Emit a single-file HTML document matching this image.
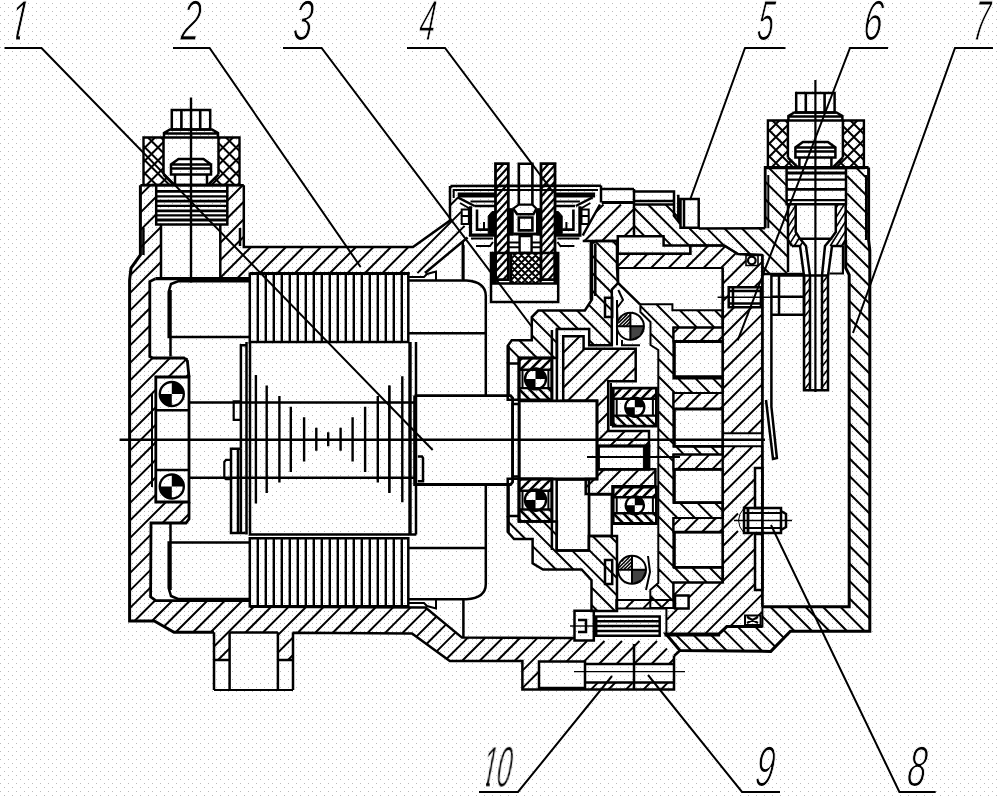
<!DOCTYPE html>
<html><head><meta charset="utf-8"><title>fig</title>
<style>
html,body{margin:0;padding:0;background:#fff;}
body{width:1000px;height:796px;overflow:hidden;position:relative;font-family:"Liberation Sans",sans-serif;}
svg{position:absolute;left:0;top:0;display:block;}
.n{font-family:"Liberation Sans",sans-serif;font-style:italic;font-size:57px;fill:#000;stroke:#fff;stroke-width:1.2px;paint-order:fill stroke;}
</style></head><body>
<svg width="1000" height="796" viewBox="0 0 1000 796">
<defs>
<pattern id="dots" width="8" height="8" patternUnits="userSpaceOnUse">
<rect x="4" y="3" width="1" height="1" fill="#bababa"/><rect x="0" y="7" width="1" height="1" fill="#bababa"/>
</pattern>
<pattern id="dots2" width="8" height="8" patternUnits="userSpaceOnUse"><rect x="0" y="3" width="1" height="1" fill="#c0c0c0"/><rect x="4" y="7" width="1" height="1" fill="#c0c0c0"/></pattern>
<clipPath id="c1"><path d="M0 0H60V35H19.9V42H16.2V35H0Z"/></clipPath>
<clipPath id="c10"><path d="M470 740H540V790H493.5V782H489.7V790H486.1V782H470Z"/></clipPath>
</defs>
<rect width="1000" height="796" fill="#fff"/>
<rect width="1000" height="796" fill="url(#dots)"/>
<path d="M129.6 280L131 268L140.4 255L140.4 185.3L156.2 185.3L156.2 224.5L161 224.5L161 278.7L149.8 281L149.8 358L187.4 358L189 377L155.8 377L155.8 502L189 502L189 523L150.6 523L150.6 600.7L249.8 600.7L249.8 606.7L425.5 607.5L462 637.6L574 638L574 641L660 641L674 656L674 689.5L522.4 689.5L522.4 661L449.8 661L412 633.4L293 632.3L293 660L277.9 660L277.9 632.3L229.6 632.3L229.6 660L214 660L214 632.3L174 632.3L154.3 621L129.6 621ZM539 661.6L585 661.6L585 664L674 664L674 682.4L585 682.4L585 688L539 688ZM220.3 185.3L243.8 185.3L243.8 247L413 247L450 220.6L450 186L458 186L458 200L467.6 237.5L425 273L409.7 273.2L249.8 273.2L249.8 278.7L220.3 278.7L220.3 224.5L227.3 224.5L227.3 185.3ZM143.5 137.5L163.5 137.5L163.5 174.5L174 185L143.5 185ZM143.5 137.5L163.5 137.5L163.5 174.5L174 185L143.5 185ZM239.5 137.5L218.5 137.5L218.5 174.5L208 185L239.5 185ZM239.5 137.5L218.5 137.5L218.5 174.5L208 185L239.5 185ZM767.9 120.5L787.9 120.5L787.9 157.5L798.4 168L767.9 168ZM767.9 120.5L787.9 120.5L787.9 157.5L798.4 168L767.9 168ZM863.9 120.5L842.9 120.5L842.9 157.5L832.4 168L863.9 168ZM863.9 120.5L842.9 120.5L842.9 157.5L832.4 168L863.9 168ZM847 167.5L868.6 167.5L868.6 240L870.3 250L870.3 631.2L790.4 631.2L770.8 651.4L680 650.5L666 634L718.8 634L726.8 626.6L762.4 626.6L762.4 606.8L849.2 606.8L849.2 274.9L845.7 267.8L845.7 204.3L847 204.3ZM765.2 167.5L786.9 167.5L786.9 204.3L788 204.3L788 274L771.4 274L762.4 274L762.4 255L738 254L724 245.4L663.6 245.4L663.6 236.2L634 236.2L634 204.5L679 204.5L679 228.5L765.2 228.2ZM788 204.3L795.7 204.3L795.7 232L800 238.8L806 246L792 246L788 240ZM845.7 204.3L835.8 204.3L835.8 232L831 238.8L825 246L842 246L845.7 240ZM804 275.6L810 275.6L810 390.2L804 390.2ZM822 275.6L828 275.6L828 390.2L822 390.2ZM600 204.5L634 204.5L634 236.2L617.8 236.2L617.8 241L582.7 241L582.7 235.5ZM617.8 253.8L690.3 253.8L690.3 245.4L724 245.4L738 254L762.4 255L762.4 433.3L722.7 433.3L722.7 446.3L762.4 446.3L762.4 626.6L726.8 626.6L718.8 633.9L666.4 633.9L666.4 608.4L616.3 608.4L616.3 600L673.4 600L673.4 582.4L722.7 582.4L722.7 532.2L673.4 532.2L673.4 518L722.7 518L722.7 469.4L673.4 469.4L673.4 454.4L722.7 454.4L722.7 409L673.4 409L673.4 393L722.7 393L722.7 341.5L673.4 341.5L673.4 327.4L722.7 327.4L722.7 268L617.8 268ZM675 595.6L688.6 595.6L688.6 608.4L675 608.4ZM728.7 287.2L760.9 287.2L760.9 307.3L728.7 307.3ZM738 508L762 508L762 533L738 533ZM755 468L762 468L762 507L755 507ZM755 534L762 534L762 590L755 590ZM745 615.4L760.6 615.4L760.6 625L745 625ZM746 255.5L758 255.5L758 265.5L746 265.5ZM640.4 304.3L672.4 304.3L672.4 310.3L722.7 310.3L722.7 327.4L673.4 327.4L673.4 378.6L722.7 378.6L722.7 393L673.4 393L673.4 446.3L722.7 446.3L722.7 454.4L673.4 454.4L673.4 502.6L722.7 502.6L722.7 518L673.4 518L673.4 567.3L722.7 567.3L722.7 582.4L673.4 582.4L673.4 608L650.3 608L650.3 590L658.3 583L658.3 470L658.3 350L650.5 345L650.5 322L640.4 312ZM507.7 363.6L507.7 346L511.7 340.3L531.8 340.3L531.8 317L538.2 310.5L584.9 310.5L592 299.3L592 243.4L595.3 241L617 241L617 268L618 283L611.8 289.6L611.8 345.3L589.2 345.3L589.2 329L556.9 329L556.9 358L519 358L519 363.6ZM507.7 516L507.7 531.9L514 539L532.6 539L532.6 563.2L543 569.5L581.6 569.5L591.5 580.2L591.5 611L617 611L617 536L611.8 536L588.9 536L588.9 550.4L556.7 550.4L556.9 521.4L519 521.4L519 516ZM519 358L551.9 358L551.9 369.7L519 369.7ZM519 388.1L551.9 388.1L551.9 399.8L519 399.8ZM519 478.8L551.9 478.8L551.9 490.7L519 490.7ZM519 509.5L551.9 509.5L551.9 521.4L519 521.4ZM563.2 336.2L583.6 336.2L583.6 348.8L635.7 348.8L635.7 381.2L608.2 381.2L608.2 431L649 431L649 446L598.4 446L598.4 469.3L655.4 469.3L655.4 486.2L612.5 486.2L612.5 494L585.7 494L585.7 479L597 479L597 400.8L563.2 400.8ZM613.2 388.2L656.4 388.2L656.4 398.8L613.2 398.8ZM613.2 415.6L656.4 415.6L656.4 426.2L613.2 426.2ZM613.2 487L656.4 487L656.4 497.2L613.2 497.2ZM613.2 513.3L656.4 513.3L656.4 523.5L613.2 523.5ZM616.9 326.3L620.9 316.9L630.4 312.8L630.4 326.3ZM618 569.8L622.2 560L632 555.8L632 569.8ZM495.5 163.7L508.3 163.7L508.3 279.6L495.5 279.6ZM541 163.7L555 163.7L555 279.6L541 279.6ZM510.7 253.9L541.3 253.9L541.3 283.6L510.7 283.6ZM510.7 253.9L541.3 253.9L541.3 283.6L510.7 283.6Z" fill="url(#dots2)" fill-rule="evenodd"/>
<g fill="none" stroke="#000" stroke-linecap="butt" stroke-linejoin="miter">
<path d="M4.5 48L41.5 48L432.7 450M173 48L209.6 48L360.6 267M283 48L321.6 48L532 327M407 48L445 48L553 192M785.5 48L745 48L690 200M888 48L850 48L737.7 340.4M993 48L955 48L853 333M935.7 792L899.4 792L771 525M780 792L742 792L648 675M479 792L518 792L612 676" stroke-width="2"/>
<path d="M119.6 439.8L765 439.8" stroke-width="2.6"/>
<path d="M191 97.5L191 282.5" stroke-width="2.4"/>
<path d="M140.4 185.3L140.4 255L131 268L129.6 280L129.6 621L154.3 621L174 632.3L214 632.3" stroke-width="3"/>
<path d="M293 632.8L412 633.4L449.8 661L522.4 661L522.4 689.5L674 689.5L674 656M243.8 185.3L243.8 247L413 247L450 220.6L450 186M214 632.3L214 690M229.6 632.3L229.6 690M277.9 632.3L277.9 690M293 632.3L293 690M214 660L229.6 660M277.9 660L293 660" stroke-width="2.5"/>
<path d="M214 690L293 690" stroke-width="2"/>
<path d="M229.6 632.5L277.9 632.5" stroke-width="2.5"/>
<path d="M155.4 278.7L249.8 278.7" stroke-width="3.2"/>
<path d="M155.4 278.7L149.8 281.5L149.8 356.6L153 358L184 358L187.4 361L189 377M189 502L189 519L186 523L151 523L150.6 596.8L155.8 600.7L249.8 600.7" stroke-width="2.8"/>
<path d="M249.8 606.7L425.5 607.5L462 637.6L574 638M249.8 273.2L409.7 273.2" stroke-width="2.5"/>
<path d="M150.2 185.3L140.4 195.1M156.2 196.8L140.4 212.6M156.2 214.3L140.4 230.1M161 227L140.4 247.6M161 244.5L130.1 275.4M161 262L129.6 293.4M149.8 290.7L129.6 310.9M149.8 308.2L129.6 328.4M149.8 325.7L129.6 345.9M149.8 343.2L129.6 363.4M152.5 358L129.6 380.9M170 358L129.6 398.4M187.4 358.1L168.5 377M155.8 389.7L129.6 415.9M188.8 374.2L186 377M155.8 407.2L129.6 433.4M155.8 424.7L129.6 450.9M155.8 442.2L129.6 468.4M155.8 459.7L129.6 485.9M155.8 477.2L129.6 503.4M155.8 494.7L129.6 520.9M166 502L129.6 538.4M183.5 502L162.5 523M150.6 534.9L129.6 555.9M189 514L180 523M150.6 552.4L129.6 573.4M150.6 569.9L129.6 590.9M150.6 587.4L129.6 608.4M154.8 600.7L134.5 621M172.3 600.7L152 621M189.8 600.7L164 626.5M207.3 600.7L175.7 632.3M224.8 600.7L193.2 632.3M242.3 600.7L210.7 632.3M253.8 606.7L214 646.5M271.2 606.8L245.7 632.3M229.6 648.4L218 660M288.6 606.9L263.2 632.3M306 607L277.9 635.1M323.5 607L298.2 632.3M293 637.5L277.9 652.6M340.9 607.1L315.5 632.5M293 655L288 660M358.3 607.2L332.8 632.7M375.7 607.3L350.2 632.8M393.1 607.4L367.5 633M410.6 607.4L384.9 633.1M426.9 608.6L402.2 633.3M436.5 616.5L416.4 636.6M446.1 624.4L426.5 644M455.6 632.4L436.6 651.4M467.9 637.6L446.7 658.8M485.3 637.7L462 661M502.8 637.7L479.5 661M520.2 637.8L497 661M537.6 637.9L514.5 661M555.1 637.9L522.4 670.6M572.5 638L548.9 661.6M539 671.5L522.4 688.1M587 641L566.4 661.6M540 688L538.5 689.5M604.5 641L583.9 661.6M557.5 688L556 689.5M622 641L599 664M575 688L573.5 689.5M639.5 641L616.5 664M598.1 682.4L591 689.5M657 641L634 664M615.6 682.4L608.5 689.5M667 648.5L651.5 664M633.1 682.4L626 689.5M674 659L669 664M650.6 682.4L643.5 689.5M668.1 682.4L661 689.5M242.7 185.3L227.3 200.7M243.8 201.7L227.3 218.2M221 224.5L220.3 225.2M243.8 219.2L220.3 242.7M243.8 236.7L220.3 260.2M251 247L220.3 277.7M268.5 247L236.8 278.7M286 247L259.8 273.2M303.5 247L277.3 273.2M321 247L294.8 273.2M338.5 247L312.3 273.2M356 247L329.8 273.2M373.5 247L347.3 273.2M452 186L450 188M391 247L364.8 273.2M458 197.5L450 205.5M408.5 247L382.3 273.2M461.1 211.9L399.8 273.2M464.6 225.9L417.4 273.1" stroke-width="2"/>
<path d="M249.8 273.7L408.3 273.7L408.3 342L249.8 342Z" stroke-width="2.5"/>
<path d="M257.8 273.7L257.8 342M265.8 273.7L265.8 342M273.8 273.7L273.8 342M281.8 273.7L281.8 342M289.8 273.7L289.8 342M297.8 273.7L297.8 342M305.8 273.7L305.8 342M313.8 273.7L313.8 342M321.8 273.7L321.8 342M329.8 273.7L329.8 342M337.8 273.7L337.8 342M345.8 273.7L345.8 342M353.8 273.7L353.8 342M361.8 273.7L361.8 342M369.8 273.7L369.8 342M377.8 273.7L377.8 342M385.8 273.7L385.8 342M393.8 273.7L393.8 342M401.8 273.7L401.8 342" stroke-width="2.4"/>
<path d="M249.8 538.3L408.3 538.3L408.3 606.3L249.8 606.3Z" stroke-width="2.5"/>
<path d="M257.8 538.3L257.8 606.3M265.8 538.3L265.8 606.3M273.8 538.3L273.8 606.3M281.8 538.3L281.8 606.3M289.8 538.3L289.8 606.3M297.8 538.3L297.8 606.3M305.8 538.3L305.8 606.3M313.8 538.3L313.8 606.3M321.8 538.3L321.8 606.3M329.8 538.3L329.8 606.3M337.8 538.3L337.8 606.3M345.8 538.3L345.8 606.3M353.8 538.3L353.8 606.3M361.8 538.3L361.8 606.3M369.8 538.3L369.8 606.3M377.8 538.3L377.8 606.3M385.8 538.3L385.8 606.3M393.8 538.3L393.8 606.3M401.8 538.3L401.8 606.3" stroke-width="2.4"/>
<path d="M249.8 281.3L178 281.3L171 284L168.7 292L168.7 337L249.8 337M249.8 542.5L168.7 542.5L168.7 588L171 596L178 599L249.8 599M170.5 290L170.5 356.6M170.5 523L170.5 590" stroke-width="2.5"/>
<path d="M408.3 280.6L466.5 280.6Q485.8 282 485.8 296L485.8 395.6M485.8 484.5L485.8 584Q485.8 598 466.5 599.2L408.3 599.2" stroke-width="2.5"/>
<path d="M408.3 333.2L485.8 333.2M408.3 547.9L485.8 547.9M463.4 245L463.4 280.6M463.4 599.2L463.4 637" stroke-width="2.5"/>
<path d="M408.3 277L424 277L427 274L436 271.5L436 280M408.3 603L424 603L427 606L436 608.5L436 600" stroke-width="2"/>
<path d="M246.5 345.3L240.9 345.3L240.9 448.8M246.5 342L246.5 534.6M250 342L250 534.6L416 534.6" stroke-width="2.5"/>
<path d="M410 342L410 534.6" stroke-width="3.4"/>
<path d="M416 342L416 534.6" stroke-width="2.5"/>
<path d="M255.9 375L255.9 503.6M266.7 385.6L266.7 493M279.4 396.1L279.4 482.5M290.8 406.7L290.8 471.9M304.1 417.2L304.1 461.4M316.3 427.8L316.3 450.8M328.2 432.3L328.2 446.3M340.6 427.8L340.6 450.8M352.6 417.2L352.6 461.4M365.1 406.7L365.1 471.9M377.8 396.1L377.8 482.5M389.4 385.6L389.4 493M402.3 376.3L402.3 502.3" stroke-width="2.4"/>
<path d="M189 402.4L414.6 402.4M189 477.8L414.6 477.8" stroke-width="2.5"/>
<path d="M414.6 395.6L510.6 395.6L512.6 398L512.6 482L510.6 484.5L414.6 484.5L414.6 395.6" stroke-width="2.8"/>
<path d="M233.7 401.3L240.9 401.3L240.9 419.8L233.7 419.8Z" stroke-width="2.2"/>
<path d="M240.9 448.8L231 448.8L231 533L245.6 533M238 448.8L238 533M240.9 448.8L240.9 533" stroke-width="2.5"/>
<path d="M231 459.8L226 459.8L224.3 462L224.3 477L226 479.2L231 479.2" stroke-width="2.2"/>
<path d="M155.8 377L189 377L189 502L155.8 502Z" stroke-width="2.8"/>
<path d="M155.8 410.2L189 410.2M155.8 470L189 470" stroke-width="2.5"/>
<circle cx="171.8" cy="394.0" r="12.0" stroke-width="2.4"/>
<path d="M171.8 394.0L171.8 382.0A12.0 12.0 0 0 1 183.8 394.0Z M171.8 394.0L171.8 406.0A12.0 12.0 0 0 1 159.8 394.0Z" fill="#000" stroke="none"/>
<circle cx="171.8" cy="486.5" r="12.0" stroke-width="2.4"/>
<path d="M171.8 486.5L171.8 474.5A12.0 12.0 0 0 1 183.8 486.5Z M171.8 486.5L171.8 498.5A12.0 12.0 0 0 1 159.8 486.5Z" fill="#000" stroke="none"/>
<path d="M152 393L152 487" stroke-width="2"/>
<path d="M171.8 109.9L210.2 109.9L210.2 129.5L171.8 129.5Z" stroke-width="2.5"/>
<path d="M181.4 109.9L181.4 129.5M200.2 109.9L200.2 129.5" stroke-width="2.6"/>
<path d="M164 137.5L164 133L170 129.5L212 129.5L218 133L218 137.5M164 133.5L218 133.5" stroke-width="2.5"/>
<path d="M143.5 137.5L239.5 137.5L239.5 185L143.5 185Z" stroke-width="2.4"/>
<path d="M163.5 137.5L163.5 174.5M218.5 137.5L218.5 174.5M163.5 174.5L174 185" stroke-width="2.5"/>
<path d="M155 137.5L143.5 149M163.5 142L143.5 162M163.5 155L143.5 175M163.5 168L146.5 185M166.8 177.8L159.5 185M173.2 184.2L172.5 185M143.5 172L156.5 185M143.5 159L169.5 185M143.5 146L163.5 166M148 137.5L163.5 153M161 137.5L163.5 140" stroke-width="2"/>
<path d="M218.5 174.5L208 185" stroke-width="2.5"/>
<path d="M220 137.5L218.5 139M233 137.5L218.5 152M239.5 144L218.5 165M239.5 157L211.5 185M239.5 170L224.5 185M239.5 183L237.5 185M214.8 178.2L221.5 185M218.5 169L234.5 185M218.5 156L239.5 177M218.5 143L239.5 164M226 137.5L239.5 151M239 137.5L239.5 138" stroke-width="2"/>
<path d="M175 185L175 174.5L171 174.5L171 164.5L178.5 159L203.5 159L211 164.5L211 174.5L207 174.5L207 185M171 164.5L211 164.5M171 168.5L211 168.5M175 174.5L207 174.5M156.2 185L227.3 185L227.3 224.5L156.2 224.5Z" stroke-width="2.5"/>
<path d="M156.2 191.3L227.3 191.3" stroke-width="2.8"/>
<path d="M156.2 196.3L227.3 196.3" stroke-width="2.2"/>
<path d="M156.2 201.1L227.3 201.1" stroke-width="2.8"/>
<path d="M156.2 205.9L227.3 205.9" stroke-width="2.2"/>
<path d="M156.2 210.9L227.3 210.9" stroke-width="2.8"/>
<path d="M156.2 215.4L227.3 215.4" stroke-width="2.2"/>
<path d="M156.2 220L227.3 220" stroke-width="2.8"/>
<path d="M796.2 92.9L834.6 92.9L834.6 112.5L796.2 112.5Z" stroke-width="2.5"/>
<path d="M805.8 92.9L805.8 112.5M824.6 92.9L824.6 112.5" stroke-width="2.6"/>
<path d="M788.4 120.5L788.4 116L794.4 112.5L836.4 112.5L842.4 116L842.4 120.5M788.4 116.5L842.4 116.5" stroke-width="2.5"/>
<path d="M767.9 120.5L863.9 120.5L863.9 168L767.9 168Z" stroke-width="2.4"/>
<path d="M787.9 120.5L787.9 157.5M842.9 120.5L842.9 157.5M787.9 157.5L798.4 168" stroke-width="2.5"/>
<path d="M779.4 120.5L767.9 132M787.9 125L767.9 145M787.9 138L767.9 158M787.9 151L770.9 168M791.1 160.8L783.9 168M797.6 167.2L796.9 168M767.9 155L780.9 168M767.9 142L793.9 168M767.9 129L787.9 149M772.4 120.5L787.9 136M785.4 120.5L787.9 123" stroke-width="2"/>
<path d="M842.9 157.5L832.4 168" stroke-width="2.5"/>
<path d="M844.4 120.5L842.9 122M857.4 120.5L842.9 135M863.9 127L842.9 148M863.9 140L835.9 168M863.9 153L848.9 168M863.9 166L861.9 168M839.1 161.2L845.9 168M842.9 152L858.9 168M842.9 139L863.9 160M842.9 126L863.9 147M850.4 120.5L863.9 134M863.4 120.5L863.9 121" stroke-width="2"/>
<path d="M799.4 168L799.4 157.5L795.4 157.5L795.4 147.5L802.9 142L827.9 142L835.4 147.5L835.4 157.5L831.4 157.5L831.4 168M795.4 147.5L835.4 147.5M795.4 151.5L835.4 151.5M799.4 157.5L831.4 157.5M786.6 168L846 168L846 204.2L786.6 204.2Z" stroke-width="2.5"/>
<path d="M786.6 173L846 173" stroke-width="2.8"/>
<path d="M786.6 179.7L846 179.7" stroke-width="2.2"/>
<path d="M786.6 189.4L846 189.4" stroke-width="2.8"/>
<path d="M786.6 200.2L846 200.2" stroke-width="2.2"/>
<path d="M140.4 185.3L243.8 185.3" stroke-width="2.4"/>
<path d="M161 224.5L161 278.7M220.3 224.5L220.3 278.7M143.4 228L143.4 255M240 228L240 246" stroke-width="2.5"/>
<path d="M868.6 167.5L765.2 167.5L765.2 228.2" stroke-width="2.8"/>
<path d="M768.3 175L768.3 228.2" stroke-width="2"/>
<path d="M868.6 167.5L868.6 240L869.8 250L869.8 631.2L790.4 631.2L770.8 651.4L680 650.5L666 634L718.8 634L726.8 626.6L762.4 626.6" stroke-width="3"/>
<path d="M866 175L866 240" stroke-width="2"/>
<path d="M845.7 240L845.7 267.8L849.2 274.9L849.2 606.8L762.4 606.8" stroke-width="3"/>
<path d="M765.2 228.2L698.7 228.5" stroke-width="2.5"/>
<path d="M675 634L691.6 650.6M692.5 634L709.3 650.8M710 634L727 651M723.3 629.8L744.6 651.1M737.6 626.6L762.3 651.3M755.1 626.6L775.3 646.8M762.4 616.4L783.9 637.9M770.3 606.8L794.7 631.2M787.8 606.8L812.2 631.2M805.3 606.8L829.7 631.2M822.8 606.8L847.2 631.2M840.3 606.8L864.7 631.2M849.2 598.2L870.3 619.3M849.2 580.7L870.3 601.8M849.2 563.2L870.3 584.3M849.2 545.7L870.3 566.8M849.2 528.2L870.3 549.3M849.2 510.7L870.3 531.8M849.2 493.2L870.3 514.3M849.2 475.7L870.3 496.8M849.2 458.2L870.3 479.3M849.2 440.7L870.3 461.8M849.2 423.2L870.3 444.3M849.2 405.7L870.3 426.8M849.2 388.2L870.3 409.3M849.2 370.7L870.3 391.8M849.2 353.2L870.3 374.3M849.2 335.7L870.3 356.8M849.2 318.2L870.3 339.3M849.2 300.7L870.3 321.8M849.2 283.2L870.3 304.3M845.7 262.2L870.3 286.8M845.7 244.7L870.3 269.3M845.7 227.2L870.3 251.8M845.7 209.7L868.6 232.6M847 193.5L868.6 215.1M847 176L868.6 197.6M856 167.5L868.6 180.1M634 225.5L644.7 236.2M634 208L662.2 236.2M663.6 237.6L671.4 245.4M648 204.5L688.9 245.4M665.5 204.5L679 218M689.5 228.5L706.4 245.4M706.9 228.4L723.9 245.4M724.3 228.3L750.5 254.5M762.4 266.4L770 274M741.8 228.3L787.5 274M759.2 228.2L788 257M765.2 216.7L788 239.5M765.2 199.2L788 222M765.2 181.7L786.9 203.4M768.5 167.5L786.9 185.9M786 167.5L786.9 168.4" stroke-width="2"/>
<path d="M788 204.3L788 240L792 246M845.7 204.3L845.7 240L842 246M795.7 204.3L795.7 232L800 238.8L831 238.8L835.8 232L835.8 204.3M800 238.8L806 246L810 275.6M831 238.8L825 246L822 275.6M792 246L800 246L804 275.6M842 246L832 246L828 275.6" stroke-width="2.5"/>
<path d="M790.3 204.3L788 208M795.7 205.3L788 217.6M795.7 214.9L788 227.2M795.7 224.5L788 236.8M796.4 233L790.1 243.1M799.4 237.8L794.2 246M802.7 242.1L800.2 246M838.3 204.3L835.8 208.3M844.3 204.3L835.8 217.9M845.7 211.7L835.8 227.5M845.7 221.3L830.2 246M845.7 230.9L836.2 246" stroke-width="1.6"/>
<path d="M815.4 80L815.4 392" stroke-width="2.2"/>
<path d="M788 240L788 272" stroke-width="2.5"/>
<path d="M842.9 246L842.9 273.5L829.5 273.5" stroke-width="2.2"/>
<path d="M804 275.6L828 275.6L828 390.2L804 390.2ZM810 275.6L810 390.2M822 275.6L822 390.2" stroke-width="2.5"/>
<path d="M810 278.2L804 286M810 288.6L804 296.4M810 299L804 306.8M810 309.4L804 317.2M810 319.8L804 327.6M810 330.2L804 338M810 340.6L804 348.4M810 351L804 358.8M810 361.4L804 369.2M810 371.8L804 379.6M810 382.2L804 390M828 275.6L822 283.4M828 286L822 293.8M828 296.4L822 304.2M828 306.8L822 314.6M828 317.2L822 325M828 327.6L822 335.4M828 338L822 345.8M828 348.4L822 356.2M828 358.8L822 366.6M828 369.2L822 377M828 379.6L822 387.4" stroke-width="1.6"/>
<path d="M762.4 255L762.4 606.8" stroke-width="2.6"/>
<path d="M771.4 274L771.4 406.8L776.9 458L773 459L766 400M771.4 275.6L804 275.6L804 314.8L771.4 314.8ZM771.4 296.7L804 296.7M779 275.6L779 314.8M762.4 274L804 274M634 189L634 235.5M634 191.6L674 191.6L674 215.8L678.3 221.4L678.3 194.7M634 201L674 201M634 204.5L674 204.5M680.5 199L698.7 199L698.7 227.8L680.5 227.8ZM684 199L684 227.8" stroke-width="2.5"/>
<path d="M601.7 202.4L634 202.4" stroke-width="3"/>
<path d="M601 185.5L601 202.4M601.7 189L634 189M582.7 241L617.8 241" stroke-width="2.5"/>
<path d="M603.5 204.5L595.6 212.4M621 204.5L584.5 241M634 209L602 241M634 226.5L624.3 236.2" stroke-width="2"/>
<path d="M600 204.5L582.7 235.5M617.8 253.8L617.8 236.2L663.6 236.2L663.6 245.4L690.3 245.4L690.3 253.8L617.8 253.8M690.3 245.4L724 245.4M724 245.4L738 254L762.4 255" stroke-width="2.5"/>
<path d="M630.2 253.8L617.8 266.2M647.7 253.8L633.5 268M665.2 253.8L651 268M691.1 245.4L690.3 246.2M682.7 253.8L668.5 268M708.6 245.4L686 268M725.3 246.2L703.5 268M736.1 252.9L721 268M751.9 254.6L751 255.5M746 260.5L722.7 283.8M679.1 327.4L673.4 333.1M762.4 261.6L736.8 287.2M728.7 295.3L722.7 301.3M696.6 327.4L682.5 341.5M762.4 279.1L754.3 287.2M734.2 307.3L722.7 318.8M714.1 327.4L700 341.5M762.4 296.6L760.9 298.1M751.7 307.3L717.5 341.5M762.4 314.1L722.7 353.8M683.5 393L673.4 403.1M762.4 331.6L722.7 371.3M701 393L685 409M762.4 349.1L722.7 388.8M718.5 393L702.5 409M762.4 366.6L720 409M674.6 454.4L673.4 455.6M762.4 384.1L722.7 423.8M692.1 454.4L677.1 469.4M762.4 401.6L730.7 433.3M709.6 454.4L694.6 469.4M762.4 419.1L748.2 433.3M735.2 446.3L712.1 469.4M752.7 446.3L722.7 476.3M681 518L673.4 525.6M762.4 454.1L722.7 493.8M698.5 518L684.3 532.2M762.4 471.6L762 472M755 479L722.7 511.3M716 518L701.8 532.2M634 600L625.6 608.4M762.4 489.1L762 489.5M755 496.5L743.5 508M738 513.5L719.3 532.2M651.5 600L643.1 608.4M762.4 506.6L762 507M762 507L761 508M738 531L722.7 546.3M686.6 582.4L673.4 595.6M669 600L660.6 608.4M762.4 524.1L762 524.5M753.5 533L722.7 563.8M704.1 582.4L688.6 597.9M678.1 608.4L666.4 620.1M762.4 541.6L762 542M755 549L722.7 581.3M721.6 582.4L670.1 633.9M762.4 559.1L762 559.5M755 566.5L687.6 633.9M762.4 576.6L762 577M755 584L705.1 633.9M762.4 594.1L729.9 626.6M762.4 611.6L758.6 615.4M749 625L747.4 626.6M617.8 253.8L690.3 253.8L690.3 245.4L724 245.4L738 254L762.4 255L762.4 433.3L722.7 433.3L722.7 446.3L762.4 446.3L762.4 626.6L726.8 626.6L718.8 633.9L666.4 633.9L666.4 608.4L616.3 608.4L616.3 600L673.4 600L673.4 582.4L722.7 582.4L722.7 532.2L673.4 532.2L673.4 518L722.7 518L722.7 469.4L673.4 469.4L673.4 454.4L722.7 454.4L722.7 409L673.4 409L673.4 393L722.7 393L722.7 341.5L673.4 341.5L673.4 327.4L722.7 327.4L722.7 268L617.8 268Z" stroke-width="2"/>
<path d="M675 595.6L688.6 595.6L688.6 608.4L675 608.4Z" stroke-width="2.5"/>
<path d="M722.7 341.5L674.4 341.5L674.4 376.6L722.7 376.6M722.7 409L674.4 409L674.4 446.3L722.7 446.3M722.7 469.4L674.4 469.4L674.4 502.6L722.7 502.6M722.7 532.2L674.4 532.2L674.4 567.3L722.7 567.3" stroke-width="2.8"/>
<path d="M722.7 268L722.7 582.4" stroke-width="2.4"/>
<path d="M650.3 595.8L662.5 608M656.5 584.5L673.4 601.4M658.3 568.8L673.4 583.9M658.3 551.3L673.4 566.4M674.3 567.3L689.4 582.4M658.3 533.8L673.4 548.9M691.8 567.3L706.9 582.4M658.3 516.3L673.4 531.4M709.3 567.3L722.7 580.7M658.3 498.8L677.5 518M658.3 481.3L673.4 496.4M679.6 502.6L695 518M658.3 463.8L673.4 478.9M697.1 502.6L712.5 518M658.3 446.3L673.4 461.4M714.6 502.6L722.7 510.7M658.3 428.8L673.4 443.9M675.8 446.3L683.9 454.4M658.3 411.3L673.4 426.4M693.3 446.3L701.4 454.4M658.3 393.8L673.4 408.9M710.8 446.3L718.9 454.4M658.3 376.3L675 393M658.3 358.8L673.4 373.9M678.1 378.6L692.5 393M650.5 333.5L673.4 356.4M695.6 378.6L710 393M640.4 305.9L673.4 338.9M713.1 378.6L722.7 388.2M656.3 304.3L679.4 327.4M679.8 310.3L696.9 327.4M697.3 310.3L714.4 327.4M714.8 310.3L722.7 318.2M640.4 304.3L672.4 304.3L672.4 310.3L722.7 310.3L722.7 327.4L673.4 327.4L673.4 378.6L722.7 378.6L722.7 393L673.4 393L673.4 446.3L722.7 446.3L722.7 454.4L673.4 454.4L673.4 502.6L722.7 502.6L722.7 518L673.4 518L673.4 567.3L722.7 567.3L722.7 582.4L673.4 582.4L673.4 608L650.3 608L650.3 590L658.3 583L658.3 470L658.3 350L650.5 345L650.5 322L640.4 312Z" stroke-width="2"/>
<path d="M618 268L618 283L640 304.3M728.7 287.2L760.9 287.2L760.9 307.3L728.7 307.3Z" stroke-width="2.5"/>
<path d="M717.6 297.2L790 297.2" stroke-width="1.4"/>
<path d="M733 287.2L733 307.3M728.7 291L760.9 291M728.7 303.5L760.9 303.5" stroke-width="2.5"/>
<circle cx="751.8" cy="260.5" r="3.8" stroke-width="2.2"/>
<path d="M746 255.5L758 255.5L758 265.5L746 265.5Z" stroke-width="1.6"/>
<path d="M745 615.4L760.6 615.4L760.6 625L745 625ZM747 623L758 617M747 617L758 623" stroke-width="2"/>
<path d="M744 508L781 508L781 533L744 533ZM781 511L786 514L786 527L781 530" stroke-width="2.5"/>
<path d="M734 520.5L792 520.5" stroke-width="1.6"/>
<path d="M744 508 Q733 520.5 744 533" />
<path d="M748 508L748 533" stroke-width="2.8"/>
<path d="M744 513L781 513M744 528L781 528" stroke-width="2"/>
<path d="M755 468L762.4 468L762.4 508L755 508ZM755 534L762.4 534L762.4 590L755 590Z" stroke-width="2.5"/>
<path d="M507.7 346.2L519.5 358M519.3 340.3L537 358M531.8 335.3L554.5 358M531.8 317.8L556.9 342.9M542 310.5L560.5 329M559.5 310.5L578 329M589.2 340.2L594.3 345.3M577 310.5L611.8 345.3M588.6 304.6L611.8 327.8M592 290.5L611.8 310.3M592 273L611.8 292.8M592 255.5L617.9 281.4M595.1 241.1L617 263M612.5 241L617 245.5" stroke-width="2"/>
<path d="M507.7 363.6L507.7 346L511.7 340.3L531.8 340.3L531.8 317L538.2 310.5L584.9 310.5L592 299.3L592 243.4L595.3 241L617 241L617 268L618 283L611.8 289.6L611.8 345.3L589.2 345.3L589.2 329L556.9 329L556.9 358L519 358L519 363.6" stroke-width="2.5"/>
<path d="M507.7 521.2L525.5 539M532.6 546.1L556 569.5M591.5 605L597.5 611M525.4 521.4L573.5 569.5M591.5 587.5L615 611M542.9 521.4L556.8 535.3M571.9 550.4L617 595.5M588.9 549.9L617 578M592.5 536L617 560.5M610 536L617 543" stroke-width="2"/>
<path d="M507.7 516L507.7 531.9L514 539L532.6 539L532.6 563.2L543 569.5L581.6 569.5L591.5 580.2L591.5 611L617 611L617 536L611.8 536L588.9 536L588.9 550.4L556.7 550.4L556.9 521.4L519 521.4L519 516M591 241L591 299.3" stroke-width="2.5"/>
<path d="M519 358L551.9 358L551.9 399.8L519 399.8Z" stroke-width="2.8"/>
<path d="M522 358L519 361M532 358L520.3 369.7M542 358L530.3 369.7M551.9 358.1L540.3 369.7M551.9 368.1L550.3 369.7M519 399L519.8 399.8M519 389L529.8 399.8M528.1 388.1L539.8 399.8M538.1 388.1L549.8 399.8M548.1 388.1L551.9 391.9" stroke-width="2.6"/>
<path d="M519 369.7L551.9 369.7M519 388.1L551.9 388.1" stroke-width="2.4"/>
<circle cx="535.5" cy="378.9" r="10.5" stroke-width="2.4"/>
<path d="M535.5 378.9L535.5 368.4A10.5 10.5 0 0 1 545.9 378.9Z M535.5 378.9L535.5 389.3A10.5 10.5 0 0 1 525.0 378.9Z" fill="#000" stroke="none"/>
<path d="M522.5 369.7L522.5 388.1M548.4 369.7L548.4 388.1" stroke-width="2"/>
<path d="M519 478.8L551.9 478.8L551.9 521.4L519 521.4Z" stroke-width="2.8"/>
<path d="M521.2 478.8L519 481M531.2 478.8L519.3 490.7M541.2 478.8L529.3 490.7M551.2 478.8L539.3 490.7M551.9 488.1L549.3 490.7M519 519L521.4 521.4M519.5 509.5L531.4 521.4M529.5 509.5L541.4 521.4M539.5 509.5L551.4 521.4M549.5 509.5L551.9 511.9" stroke-width="2.6"/>
<path d="M519 490.7L551.9 490.7M519 509.5L551.9 509.5" stroke-width="2.4"/>
<circle cx="535.5" cy="500.1" r="10.6" stroke-width="2.4"/>
<path d="M535.5 500.1L535.5 489.5A10.6 10.6 0 0 1 546.1 500.1Z M535.5 500.1L535.5 510.8A10.6 10.6 0 0 1 524.8 500.1Z" fill="#000" stroke="none"/>
<path d="M522.5 490.7L522.5 509.5M548.4 490.7L548.4 509.5" stroke-width="2"/>
<path d="M551.9 330L551.9 400.8M556.9 329L556.9 400.8M551.9 479L551.9 550M507.7 363.6L519 363.6L519 399.8L507.7 399.8ZM507.7 478.8L519 478.8L519 516L507.7 516Z" stroke-width="2.5"/>
<path d="M519.2 400.8L597 400.8L597 479L519.2 479Z" stroke-width="2.8"/>
<path d="M579.8 336.2L563.2 352.8M584.7 348.8L563.2 370.3M602.2 348.8L563.2 387.8M619.7 348.8L567.7 400.8M635.7 350.3L585.2 400.8M635.7 367.8L622.3 381.2M608.2 395.3L597 406.5M608.2 412.8L597 424M608.2 430.3L597 441.5M625 431L610 446M598.4 457.6L597 459M642.5 431L627.5 446M604.2 469.3L597 476.5M594.5 479L585.7 487.8M649 442L645 446M621.7 469.3L597 494M639.2 469.3L622.3 486.2M655.4 470.6L639.8 486.2" stroke-width="2"/>
<path d="M563.2 336.2L583.6 336.2L583.6 348.8L635.7 348.8L635.7 381.2L608.2 381.2L608.2 431L649 431L649 446L598.4 446L598.4 469.3L655.4 469.3L655.4 486.2L612.5 486.2L612.5 494L585.7 494L585.7 479L597 479L597 400.8L563.2 400.8ZM556.7 479.6L588.9 479.6L588.9 550.4L556.7 550.4ZM589.2 494.6L611.8 494.6L611.8 536L589.2 536Z" stroke-width="2.5"/>
<path d="M598.4 446L649 446L649 469.3L598.4 469.3Z" stroke-width="2.8"/>
<path d="M643.4 446.0 L649.0 446.0 L649.0 469.3 L643.4 469.3Z" fill="#000"/>
<path d="M587 457L680 457" stroke-width="2"/>
<path d="M613.2 388.2L656.4 388.2L656.4 426.2L613.2 426.2Z" stroke-width="2.8"/>
<path d="M621.8 388.2L613.2 396.8M631.8 388.2L621.2 398.8M641.8 388.2L631.2 398.8M651.8 388.2L641.2 398.8M656.4 393.6L651.2 398.8M613.2 423.2L616.2 426.2M615.6 415.6L626.2 426.2M625.6 415.6L636.2 426.2M635.6 415.6L646.2 426.2M645.6 415.6L656.2 426.2M655.6 415.6L656.4 416.4" stroke-width="2.6"/>
<path d="M613.2 398.8L656.4 398.8M613.2 415.6L656.4 415.6" stroke-width="2.4"/>
<circle cx="634.8" cy="407.2" r="9.5" stroke-width="2.4"/>
<path d="M634.8 407.2L634.8 397.7A9.5 9.5 0 0 1 644.3 407.2Z M634.8 407.2L634.8 416.7A9.5 9.5 0 0 1 625.3 407.2Z" fill="#000" stroke="none"/>
<path d="M616.7 398.8L616.7 415.6M652.9 398.8L652.9 415.6" stroke-width="2"/>
<path d="M613.2 487L656.4 487L656.4 523.5L613.2 523.5Z" stroke-width="2.8"/>
<path d="M623 487L613.2 496.8M633 487L622.8 497.2M643 487L632.8 497.2M653 487L642.8 497.2M656.4 493.6L652.8 497.2M613.3 513.3L623.5 523.5M623.3 513.3L633.5 523.5M633.3 513.3L643.5 523.5M643.3 513.3L653.5 523.5M653.3 513.3L656.4 516.4" stroke-width="2.6"/>
<path d="M613.2 497.2L656.4 497.2M613.2 513.3L656.4 513.3" stroke-width="2.4"/>
<circle cx="634.8" cy="505.2" r="9.1" stroke-width="2.4"/>
<path d="M634.8 505.2L634.8 496.1A9.1 9.1 0 0 1 643.9 505.2Z M634.8 505.2L634.8 514.4A9.1 9.1 0 0 1 625.7 505.2Z" fill="#000" stroke="none"/>
<path d="M616.7 497.2L616.7 513.3M652.9 497.2L652.9 513.3M608.2 383L608.2 431M611 383L611 426" stroke-width="2"/>
<circle cx="630.4" cy="326.3" r="13.5" stroke-width="2"/>
<path d="M621.3 316.7L620.8 317.2M627.4 314.1L618.2 323.3M630.4 314.6L618.7 326.3M630.4 318.1L622.2 326.3M630.4 321.6L625.7 326.3M630.4 325.1L629.2 326.3" stroke-width="1.5"/>
<path d="M630.4 326.3 L643.9 326.3 L639.9 335.8 L630.4 339.8Z" fill="#444"/>
<path d="M616.9 326.3L643.9 326.3M630.4 312.8L630.4 339.8" stroke-width="2"/>
<circle cx="632.0" cy="569.8" r="14.0" stroke-width="2"/>
<path d="M623.6 559.4L621.6 561.4M629.7 556.8L619 567.5M632 558L620.2 569.8M632 561.5L623.7 569.8M632 565L627.2 569.8M632 568.5L630.7 569.8" stroke-width="1.5"/>
<path d="M632.0 569.8 L646.0 569.8 L641.8 579.6 L632.0 583.8Z" fill="#444"/>
<path d="M618 569.8L646 569.8M632 555.8L632 583.8" stroke-width="2"/>
<path d="M605 297.7L612.2 297.7L612.2 317L605 317ZM605 560L612.2 560L612.2 584L605 584Z" stroke-width="2.5"/>
<path d="M618.3 290L623 300L617 308L617.5 318M648 556L650 572L646 590M617 300L617 345.3M622 340L622 345.3L640 345.3M617 536L617 600" stroke-width="2"/>
<path d="M508.6 346L508.6 395.6M508.6 484.5L508.6 532M519 358L519 400.8M519 479L519 521.4M512.6 404L519 404L519 476.5L512.6 476.5ZM417.8 456.4L422 456.4L423 458L423 481.3L417.8 481.3" stroke-width="2.5"/>
<path d="M389.3 385.6L389.3 492.5" stroke-width="2"/>
<path d="M574.5 610.8L593.8 610.8L593.8 640.6L574.5 640.6ZM596.2 616.5L659.7 616.5L659.7 635.8L596.2 635.8ZM596.2 621.3L659.7 621.3M596.2 626L659.7 626M596.2 631L659.7 631M578 620L586 620L586 632L578 632" stroke-width="2.5"/>
<path d="M570 626L600 626" stroke-width="1.4"/>
<path d="M664.5 635.3L720 635.3" stroke-width="2.6"/>
<path d="M539 661.6L585 661.6L585 688L539 688ZM585 664L674 664M585 682.4L674 682.4" stroke-width="2.5"/>
<path d="M574 671.6L685 671.6" stroke-width="1.4"/>
<path d="M634 644L634 689.5M674 656L680 650.5M491 253L558.2 253L558.2 302L491 302ZM491 283.6L558.2 283.6" stroke-width="2.5"/>
<path d="M491.0 253.0 L496.3 253.0 L496.3 283.6 L491.0 283.6Z" fill="#000"/>
<path d="M554.0 253.0 L558.2 253.0 L558.2 283.6 L554.0 283.6Z" fill="#000"/>
<path d="M495.5 163.7L508.3 163.7L508.3 279.6L495.5 279.6Z" stroke-width="2.8"/>
<path d="M496.2 163.7L495.5 164.5M503.7 163.7L495.5 172.7M508.3 166.9L495.5 181M508.3 175.1L495.5 189.2M508.3 183.4L495.5 197.5M508.3 191.6L495.5 205.7M508.3 199.9L495.5 214M508.3 208.1L495.5 222.2M508.3 216.4L495.5 230.5M508.3 224.6L495.5 238.7M508.3 232.9L495.5 246.9M508.3 241.1L495.5 255.2M508.3 249.4L495.5 263.4M508.3 257.6L495.5 271.7M508.3 265.9L495.8 279.6M508.3 274.1L503.3 279.6" stroke-width="2.2"/>
<path d="M541 163.7L555 163.7L555 279.6L541 279.6Z" stroke-width="2.8"/>
<path d="M548.7 163.7L541 172.2M555 165L541 180.4M555 173.3L541 188.7M555 181.5L541 196.9M555 189.8L541 205.2M555 198L541 213.4M555 206.2L541 221.7M555 214.5L541 229.9M555 222.8L541 238.2M555 231L541 246.4M555 239.2L541 254.7M555 247.5L541 262.9M555 255.8L541 271.1M555 264L541 279.4M555 272.2L548.3 279.6" stroke-width="2.2"/>
<path d="M518.8 204.7L518.8 163.7L532.4 163.7L532.4 204.7" stroke-width="2.6"/>
<path d="M516.1 253.9L510.7 259.3M523.1 253.9L510.7 266.3M530.1 253.9L510.7 273.3M537.1 253.9L510.7 280.3M541.3 256.7L514.4 283.6M541.3 263.7L521.4 283.6M541.3 270.7L528.4 283.6M541.3 277.7L535.4 283.6M510.7 279.7L514.6 283.6M510.7 272.7L521.6 283.6M510.7 265.7L528.6 283.6M510.7 258.7L535.6 283.6M512.9 253.9L541.3 282.3M519.9 253.9L541.3 275.3M526.9 253.9L541.3 268.3M533.9 253.9L541.3 261.3M540.9 253.9L541.3 254.3" stroke-width="2"/>
<path d="M510.7 253.9L510.7 283.6" stroke-width="2.8"/>
<path d="M450.5 186L601 185.7" stroke-width="2.6"/>
<path d="M453.7 198L453.7 189.9L598 189.9" stroke-width="2"/>
<path d="M457.7 195L495.5 195M555 195L595.1 195" stroke-width="4.8"/>
<path d="M470.5 201.4L495.5 201.4M555 201.4L579.9 201.4" stroke-width="2"/>
<path d="M474.6 206L495.5 206M555 206L575 206M457.7 197.4L474.6 206" stroke-width="2.4"/>
<path d="M460 203L470.5 209M461.7 209.5L468.9 209.5L468.9 224L461.7 224ZM461.7 216L468.9 216" stroke-width="2"/>
<path d="M470.5 206.3L470.5 235.2L495.5 235.2" stroke-width="3.2"/>
<path d="M477 209.5L477 229.6L488.2 229.6" stroke-width="2.6"/>
<path d="M488.2 216.0 L492.0 211.5 L495.5 211.5 L495.5 233.6 L488.2 233.6Z" fill="#000"/>
<path d="M484 222L484 229.6M471 238.5L493 238.5M476 246L490 246L493 242" stroke-width="2"/>
<path d="M592.7 197.4L575.8 206" stroke-width="2.4"/>
<path d="M590.4 203L579.9 209M581.5 209.5L588.7 209.5L588.7 224L581.5 224ZM588.7 216L581.5 216" stroke-width="2"/>
<path d="M579.9 206.3L579.9 235.2L554.9 235.2" stroke-width="3.2"/>
<path d="M573.4 209.5L573.4 229.6L562.2 229.6" stroke-width="2.6"/>
<path d="M562.2 216.0 L558.4 211.5 L554.9 211.5 L554.9 233.6 L562.2 233.6Z" fill="#000"/>
<path d="M566.4 222L566.4 229.6M579.4 238.5L557.4 238.5M574.4 246L560.4 246L557.4 242" stroke-width="2"/>
<path d="M508.3 208.7 L513.2 208.7 L513.2 235.2 L508.3 235.2Z" fill="#000"/>
<path d="M536.5 208.7 L541.0 208.7 L541.0 235.2 L536.5 235.2Z" fill="#000"/>
<path d="M513.2 208.7L517.2 214.3L533.4 214.3L536.5 208.7" stroke-width="2.6"/>
<path d="M513.2 208.7L518.8 204.7L532.4 204.7L536.5 208.7" stroke-width="2.2"/>
<path d="M518.8 217.5L532.4 217.5L532.4 230.4L518.8 230.4Z" stroke-width="2.6"/>
<path d="M513.2 234L536.5 234" stroke-width="3"/>
<path d="M519.6 236L531.6 236L531.6 252.9L519.6 252.9Z" stroke-width="2.4"/>
<path d="M509 242.4L519.6 242.4M531.6 242.4L541 242.4M509 247.3L519.6 247.3M531.6 247.3L541 247.3" stroke-width="2"/>
<path d="M425 273L467.6 237.5M462.8 240.7L462.8 279.3M591 243.4L591 300M595.3 243.4L595.3 296" stroke-width="2.5"/>
</g>
<g class="n" opacity="0.999">
<g clip-path="url(#c1)"><text x="0" y="0" transform="translate(8 40) skewX(-6) scale(0.6 1)">1</text></g>
<text x="0" y="0" transform="translate(180 40) skewX(-6) scale(0.6 1)">2</text>
<text x="0" y="0" transform="translate(292 40) skewX(-6) scale(0.6 1)">3</text>
<text x="0" y="0" transform="translate(418 40) skewX(-6) scale(0.5 1)">4</text>
<text x="0" y="0" transform="translate(756 40) skewX(-6) scale(0.52 1)">5</text>
<text x="0" y="0" transform="translate(862 40) skewX(-6) scale(0.6 1)">6</text>
<text x="0" y="0" transform="translate(972 40) skewX(-6) scale(0.5 1)">7</text>
<text x="0" y="0" transform="translate(906 786) skewX(-6) scale(0.6 1)">8</text>
<text x="0" y="0" transform="translate(754 786) skewX(-6) scale(0.6 1)">9</text>
<g clip-path="url(#c10)"><text x="0" y="0" transform="translate(480.5 787) skewX(-6) scale(0.47 1)">10</text></g>
</g>
</svg>
</body></html>
